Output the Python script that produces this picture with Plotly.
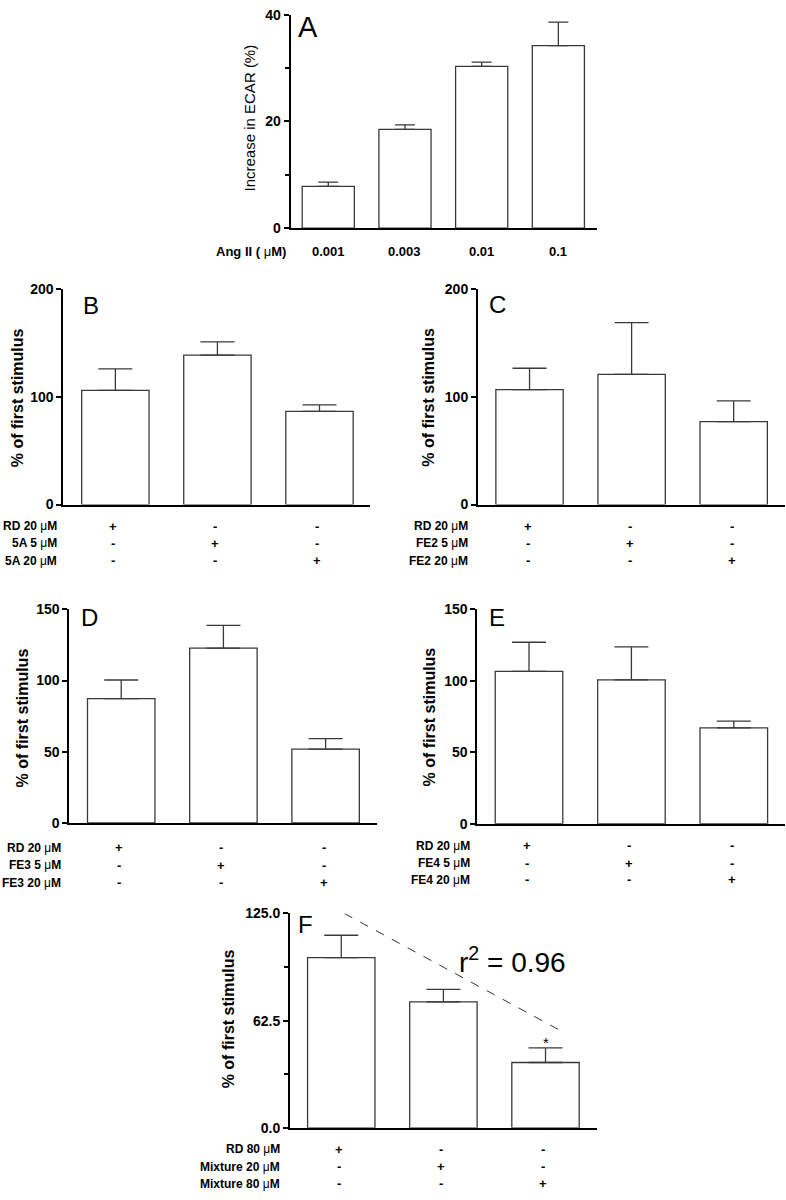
import plotly.graph_objects as go

W, H = 786, 1200
FONT = "Arial, Liberation Sans, sans-serif"

# ---------------- data ----------------
a_cats = ["0.001", "0.003", "0.01", "0.1"]
a_vals = [7.8, 18.5, 30.3, 34.2]
a_errs = [0.8, 0.85, 0.8, 4.4]

b_vals = [106.0, 138.8, 86.5]
b_errs = [20.0, 12.2, 6.1]
b_rows = ["RD 20 μM", "5A 5 μM", "5A 20 μM"]

c_vals = [106.7, 121.0, 77.0]
c_errs = [19.9, 48.0, 19.3]
c_rows = ["RD 20 μM", "FE2 5 μM", "FE2 20 μM"]

d_vals = [87.3, 122.8, 51.9]
d_errs = [13.1, 15.9, 7.4]
d_rows = ["RD 20 μM", "FE3 5 μM", "FE3 20 μM"]

e_vals = [106.5, 100.5, 66.9]
e_errs = [20.3, 23.1, 4.8]
e_rows = ["RD 20 μM", "FE4 5 μM", "FE4 20 μM"]

f_vals = [99.3, 73.4, 38.1]
f_errs = [13.0, 7.3, 8.5]
f_rows = ["RD 80 μM", "Mixture 20 μM", "Mixture 80 μM"]

signs = [["+", "-", "-"], ["-", "+", "-"], ["-", "-", "+"]]

f_trend_x = [0.03, 2.2]
f_trend_y = [125.0, 55.0]
f_r2 = "r<sup>2</sup> = 0.96"

# ---------------- layout geometry ----------------
def fx(px):
    return px / W

def fy(py):
    return 1 - py / H

panels = [
    dict(letter="A", vals=a_vals, errs=a_errs, x0=290.7, x1=596.7, ytop=6.7, ybot=223,
         xr=[-0.49, 3.5], yr=[0, 40], tv=[0, 20, 40], tt=["0", "20", "40"], minor=[10, 30],
         bw=0.68, cap=10, ytitle="Increase in ECAR (%)", tbold=False, tsize=15,
         tx=250, ty=112, lx=296, ly=19, lsize=29, tfs=14),
    dict(letter="B", vals=b_vals, errs=b_errs, x0=63.3, x1=370, ytop=285, ybot=503.3,
         xr=[-0.51, 2.495], yr=[0, 200], tv=[0, 100, 200], tt=["0", "100", "200"], minor=None,
         bw=0.66, cap=17, ytitle="% of first stimulus", tbold=True, tsize=16,
         tx=17.5, ty=395, lx=81, ly=302, lsize=24, tfs=14,
         rows=b_rows, rx=59, ry=[525, 542.5, 560]),
    dict(letter="C", vals=c_vals, errs=c_errs, x0=478, x1=784.7, ytop=285, ybot=503.3,
         xr=[-0.505, 2.5], yr=[0, 200], tv=[0, 100, 200], tt=["0", "100", "200"], minor=None,
         bw=0.66, cap=17, ytitle="% of first stimulus", tbold=True, tsize=16,
         tx=429, ty=395, lx=487, ly=301, lsize=24, tfs=14,
         rows=c_rows, rx=470, ry=[525, 542.5, 560]),
    dict(letter="D", vals=d_vals, errs=d_errs, x0=69.3, x1=376.7, ytop=609.5, ybot=826,
         xr=[-0.508, 2.5], yr=[0, 150], tv=[0, 50, 100, 150], tt=["0", "50", "100", "150"], minor=None,
         bw=0.66, cap=17, ytitle="% of first stimulus", tbold=True, tsize=16,
         tx=22, ty=720, lx=79, ly=618, lsize=24, tfs=14,
         rows=d_rows, rx=63.3, ry=[851, 869, 886.7]),
    dict(letter="E", vals=e_vals, errs=e_errs, x0=477.3, x1=785, ytop=609.2, ybot=826.7,
         xr=[-0.505, 2.5], yr=[0, 150], tv=[0, 50, 100, 150], tt=["0", "50", "100", "150"], minor=None,
         bw=0.66, cap=17, ytitle="% of first stimulus", tbold=True, tsize=16,
         tx=429, ty=719, lx=487, ly=618, lsize=24, tfs=14,
         rows=e_rows, rx=472, ry=[849, 866.7, 883.3]),
    dict(letter="F", vals=f_vals, errs=f_errs, x0=290, x1=597.3, ytop=917.7, ybot=1135,
         xr=[-0.502, 2.507], yr=[0, 125], tv=[0, 62.5, 125], tt=["0.0", "62.5", "125.0"],
         minor=[31.25, 93.75],
         bw=0.66, cap=17, ytitle="% of first stimulus", tbold=True, tsize=16,
         tx=228, ty=1025, lx=296, ly=929, lsize=24, tfs=14,
         rows=f_rows, rx=281.7, ry=[1156.7, 1174.3, 1191.7]),
]

fig = go.Figure()
annotations = []
layout = dict(
    width=W, height=H, margin=dict(l=0, r=0, t=0, b=0),
    paper_bgcolor="white", plot_bgcolor="white", showlegend=False,
    font=dict(family=FONT, color="black"),
)


def mu_label(s):
    a, b = s.split("μ")
    return "<b>%s</b>μ<b>%s</b>" % (a, b)


for i, p in enumerate(panels, start=1):
    xn = "x" if i == 1 else "x%d" % i
    yn = "y" if i == 1 else "y%d" % i
    xk = "xaxis" if i == 1 else "xaxis%d" % i
    yk = "yaxis" if i == 1 else "yaxis%d" % i
    n = len(p["vals"])
    xs = list(range(n))
    fig.add_trace(go.Bar(
        x=xs, y=p["vals"], width=p["bw"], xaxis=xn, yaxis=yn,
        marker=dict(color="white", line=dict(color="#3a3a3a", width=1.3)),
        error_y=dict(type="data", symmetric=False, array=p["errs"], arrayminus=[0] * n,
                     width=p["cap"], thickness=1.3, color="#3a3a3a"),
        hoverinfo="skip",
    ))
    layout[xk] = dict(domain=[fx(p["x0"]), fx(p["x1"])], range=p["xr"], anchor=yn,
                      showticklabels=False, ticks="", showgrid=False, zeroline=False,
                      showline=True, linecolor="black", linewidth=2, fixedrange=True)
    ya = dict(domain=[fy(p["ybot"]), fy(p["ytop"])], range=p["yr"], anchor=xn,
              tickvals=p["tv"], ticktext=["<b>%s</b>" % t for t in p["tt"]],
              ticks="outside", ticklen=5, tickwidth=1.5,
              tickcolor="black", showgrid=False, zeroline=False, showline=True,
              linecolor="black", linewidth=2, fixedrange=True,
              tickfont=dict(family=FONT, size=p["tfs"], color="black"))
    if p["minor"]:
        ya["minor"] = dict(tickvals=p["minor"], ticks="outside", ticklen=4, tickwidth=1.5,
                           tickcolor="black", showgrid=False)
    layout[yk] = ya

    # y-axis title
    annotations.append(dict(
        text=("<b>%s</b>" % p["ytitle"]) if p["tbold"] else p["ytitle"],
        x=fx(p["tx"]), y=fy(p["ty"]), xref="paper", yref="paper", textangle=-90,
        showarrow=False, xanchor="center", yanchor="middle",
        font=dict(family=FONT, size=p["tsize"], color="black")))
    # panel letter
    annotations.append(dict(
        text=p["letter"], x=fx(p["lx"]), y=fy(p["ly"]), xref="paper", yref="paper",
        showarrow=False, xanchor="left", yanchor="middle",
        font=dict(family=FONT, size=p["lsize"], color="black")))

    if i == 1:
        annotations.append(dict(
            text="<b>Ang II ( </b>μ<b>M)</b>", x=fx(288), y=fy(246.7), xref="paper", yref="paper",
            showarrow=False, xanchor="right", yanchor="middle",
            font=dict(family=FONT, size=13, color="black")))
        for j, c in enumerate(a_cats):
            annotations.append(dict(
                text="<b>%s</b>" % c, x=j, y=fy(246.7), xref=xn, yref="paper",
                showarrow=False, xanchor="center", yanchor="middle",
                font=dict(family=FONT, size=13, color="black")))
    else:
        for r, lab in enumerate(p["rows"]):
            annotations.append(dict(
                text=mu_label(lab), x=fx(p["rx"]), y=fy(p["ry"][r]), xref="paper", yref="paper",
                showarrow=False, xanchor="right", yanchor="middle",
                font=dict(family=FONT, size=12, color="black")))
            for j in range(n):
                annotations.append(dict(
                    text="<b>%s</b>" % signs[r][j], x=j - 0.02, y=fy(p["ry"][r]), xref=xn,
                    yref="paper", showarrow=False, xanchor="center", yanchor="middle",
                    font=dict(family=FONT, size=13, color="black")))

# panel F extras: trend line, r^2, asterisk
fig.add_trace(go.Scatter(
    x=f_trend_x, y=f_trend_y, xaxis="x6", yaxis="y6", mode="lines",
    line=dict(color="#333333", width=1, dash="dash"), hoverinfo="skip"))
annotations.append(dict(
    text=f_r2, x=1.68, y=97.8, xref="x6", yref="y6", showarrow=False,
    xanchor="center", yanchor="middle", font=dict(family=FONT, size=28, color="black")))
annotations.append(dict(
    text="*", x=2, y=49.5, xref="x6", yref="y6", showarrow=False,
    xanchor="center", yanchor="middle", font=dict(family=FONT, size=15, color="black")))

layout["annotations"] = annotations
fig.update_layout(**layout)
fig.write_html("out.html", config={"displayModeBar": False},
               post_script="document.body.style.margin='0px';document.body.style.padding='0px';")
